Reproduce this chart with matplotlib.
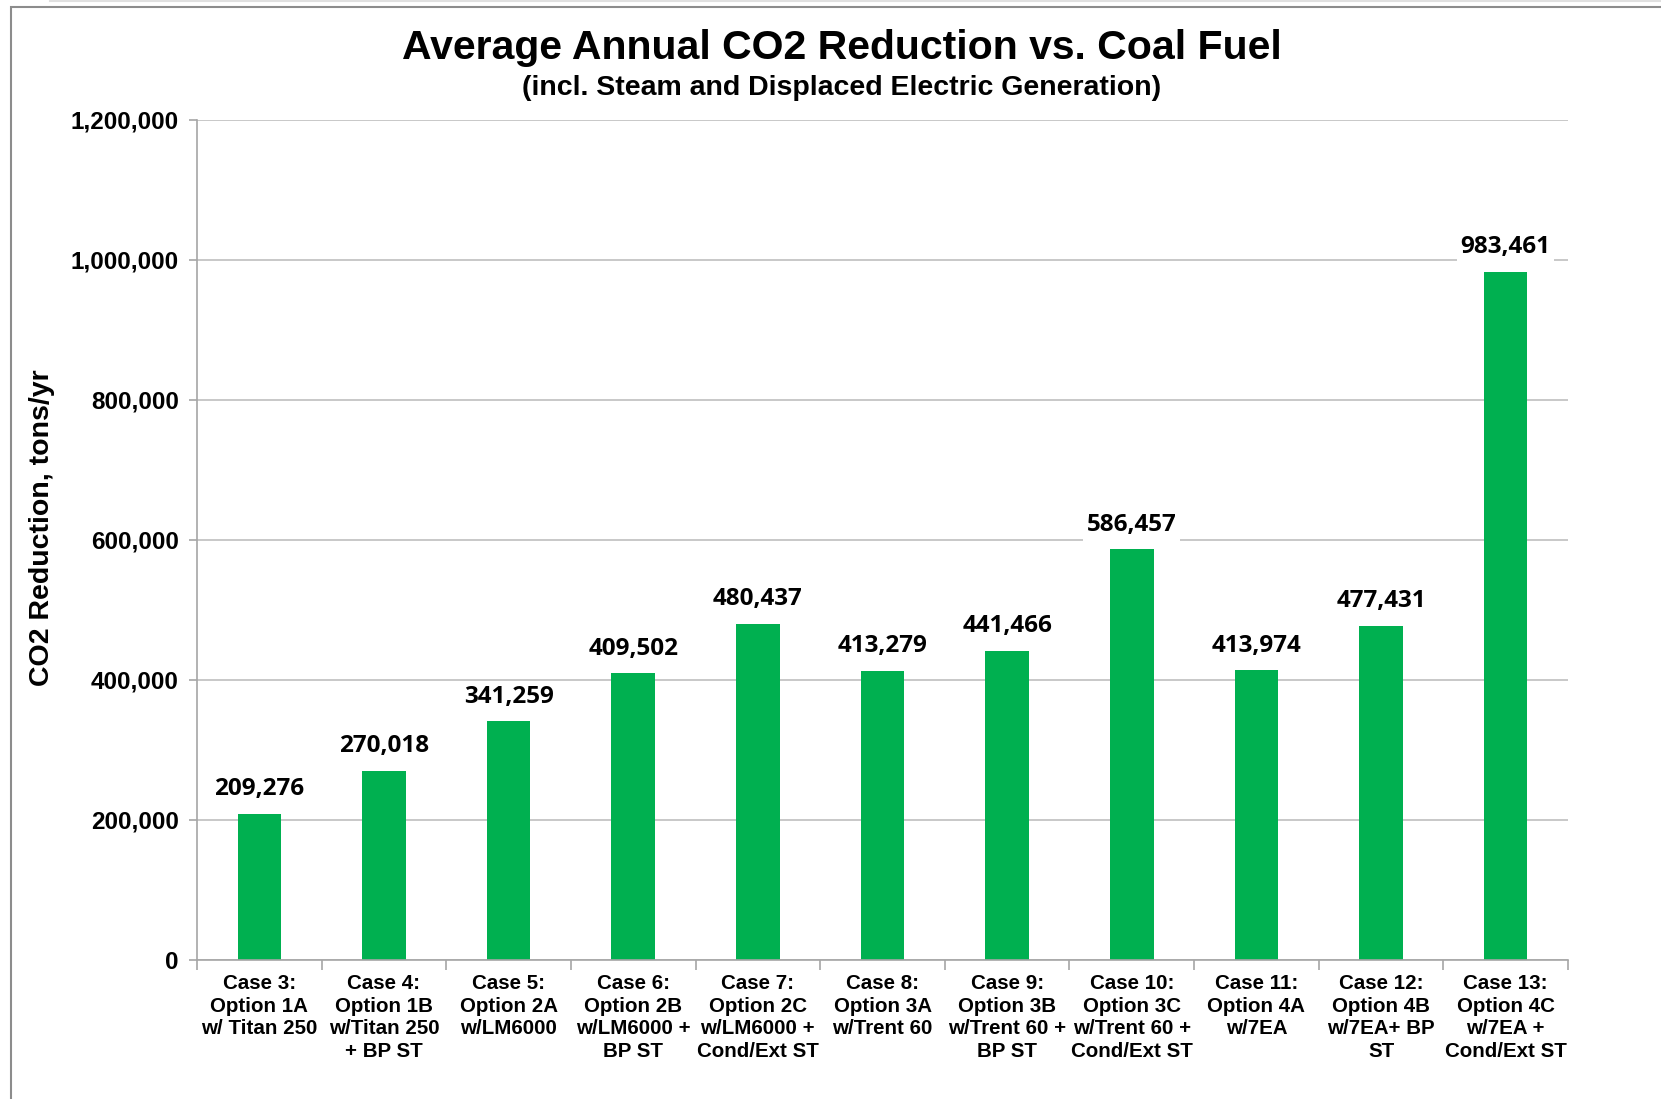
import matplotlib.pyplot as plt
import numpy as np
from matplotlib.ticker import FuncFormatter, FixedLocator
from matplotlib.patches import Rectangle
from matplotlib.lines import Line2D

# data
cases = [
    "Case 3:\nOption 1A\nw/ Titan 250",
    "Case 4:\nOption 1B\nw/Titan 250\n+ BP ST",
    "Case 5:\nOption 2A\nw/LM6000",
    "Case 6:\nOption 2B\nw/LM6000 +\nBP ST",
    "Case 7:\nOption 2C\nw/LM6000 +\nCond/Ext ST",
    "Case 8:\nOption 3A\nw/Trent 60",
    "Case 9:\nOption 3B\nw/Trent 60 +\nBP ST",
    "Case 10:\nOption 3C\nw/Trent 60 +\nCond/Ext ST",
    "Case 11:\nOption 4A\nw/7EA",
    "Case 12:\nOption 4B\nw/7EA+ BP\nST",
    "Case 13:\nOption 4C\nw/7EA +\nCond/Ext ST",
]
co2_reduction = [209276, 270018, 341259, 409502, 480437, 413279,
                 441466, 586457, 413974, 477431, 983461]
y_ticks = [0, 200000, 400000, 600000, 800000, 1000000, 1200000]

W, H = 1661, 1099
fig = plt.figure(figsize=(W / 100, H / 100), dpi=100)
ax = fig.add_axes([197 / W, 1 - 960 / H, (1568 - 197) / W, (960 - 120) / H])

x = np.arange(len(cases))
ax.bar(x, co2_reduction, width=0.35, color="#00B050", zorder=2)

ax.set_xlim(-0.5, len(cases) - 0.5)
ax.set_ylim(0, 1200000)
ax.set_yticks(y_ticks)
ax.yaxis.set_major_formatter(FuncFormatter(lambda v, p: f"{int(v):,}"))
ax.grid(axis="y", color="#BFBFBF", linewidth=1.2, zorder=0)

for s in ["top", "right"]:
    ax.spines[s].set_visible(False)
for s in ["left", "bottom"]:
    ax.spines[s].set_color("#A6A6A6")
    ax.spines[s].set_linewidth(1.2)

ax.set_xticks(x)
ax.set_xticklabels(cases, fontsize=14.8, fontweight="bold",
                   family="Liberation Sans", linespacing=1.25, va="top")
ax.tick_params(axis="x", which="major", length=0, pad=10)
ax.xaxis.set_minor_locator(FixedLocator(np.arange(-0.5, len(cases), 1.0)))
ax.tick_params(axis="x", which="minor", length=7, color="#A6A6A6", width=1.2)
ax.tick_params(axis="y", length=6, color="#A6A6A6", width=1.2, pad=7)
for lab in ax.get_yticklabels():
    lab.set_fontsize(17.5)
    lab.set_fontweight("bold")
    lab.set_family("Liberation Sans")

for xi, v in zip(x, co2_reduction):
    ax.annotate(f"{v:,}", (xi, v), xytext=(0, 9), textcoords="offset points",
                ha="center", va="bottom", fontsize=17.5, fontweight="bold",
                family="Open Sans",
                bbox=dict(boxstyle="square,pad=0.15", fc="white", ec="none"),
                zorder=3)

fig.text(42 / W, 1 - 528 / H, "CO2 Reduction, tons/yr", rotation=90,
         fontsize=20.5, fontweight="bold", family="Liberation Sans",
         ha="center", va="center")

fig.text(0.5 * (403 + 1281) / W, 1 - 48 / H, "Average Annual CO2 Reduction vs. Coal Fuel",
         ha="center", va="center", fontsize=29.5, fontweight="bold",
         family="Liberation Sans")
fig.text(0.5 * (521 + 1162) / W, 1 - 88 / H,
         "(incl. Steam and Displaced Electric Generation)",
         ha="center", va="center", fontsize=20.5, fontweight="bold",
         family="Liberation Sans")

# chart frame
fig.patches.append(Rectangle((10.5 / W, -0.1), 1.2, 1 - 6.5 / H + 0.1,
                             transform=fig.transFigure, fill=False,
                             ec="#8C8C8C", lw=1.5))
fig.lines.append(Line2D([50 / W, 1], [1 - 0.5 / H, 1 - 0.5 / H],
                        transform=fig.transFigure, color="#E0E0E0", lw=1.5))

fig.savefig("out.png", dpi=100)
